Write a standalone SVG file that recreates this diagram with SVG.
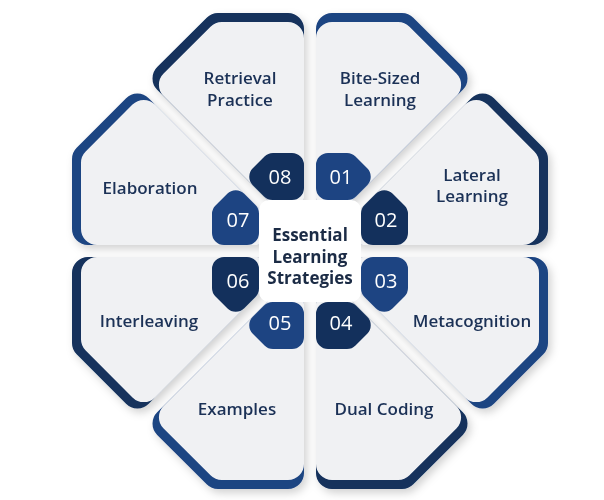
<svg xmlns="http://www.w3.org/2000/svg" width="604" height="500" viewBox="0 0 604 500">
<defs>
<filter id="sh" x="-20%" y="-20%" width="140%" height="140%"><feDropShadow dx="3" dy="4" stdDeviation="4" flood-color="#000" flood-opacity="0.18"/></filter>
<g id="card"><polygon points="22,-222 92,-222 141.5,-172.6 22,-53.1" stroke-width="32" stroke-linejoin="round"/><polygon class="lt" points="22,-213 88.2,-213 135.1,-166.2 22,-53.1" stroke-width="32" stroke-linejoin="round"/></g>
<polygon id="badge" points="18,-63 18,-86 37,-86 48.75,-74.25 37.5,-63" stroke-width="24" stroke-linejoin="round"/>
</defs>
<style>
.dk{fill:#13305c;stroke:#13305c}
.md{fill:#1d4482;stroke:#1d4482}
.lt{fill:#f0f1f3;stroke:#f0f1f3}
.lbl{font-family:"Open Sans",sans-serif;font-size:17px;font-weight:600;fill:#1b3156;text-anchor:middle}
.num{font-family:"Open Sans",sans-serif;font-size:20px;font-weight:500;fill:#fff;text-anchor:middle}
.ctr{font-family:"Open Sans",sans-serif;font-size:17px;font-weight:700;fill:#1b2b45;text-anchor:middle}
</style>
<rect width="604" height="500" fill="#fff"/>
<g id="cards" filter="url(#sh)">
<g id="c01" class="md" transform="translate(310,251)"><use href="#card"/></g>
<g id="c02" class="dk" transform="translate(310,251) matrix(0,-1,-1,0,0,0)"><use href="#card"/></g>
<g id="c03" class="md" transform="translate(310,251) matrix(0,1,-1,0,0,0)"><use href="#card"/></g>
<g id="c04" class="dk" transform="translate(310,251) matrix(1,0,0,-1,0,0)"><use href="#card"/></g>
<g id="c05" class="md" transform="translate(310,251) matrix(-1,0,0,-1,0,0)"><use href="#card"/></g>
<g id="c06" class="dk" transform="translate(310,251) matrix(0,1,1,0,0,0)"><use href="#card"/></g>
<g id="c07" class="md" transform="translate(310,251) matrix(0,-1,1,0,0,0)"><use href="#card"/></g>
<g id="c08" class="dk" transform="translate(310,251) matrix(-1,0,0,1,0,0)"><use href="#card"/></g>
</g>
<rect x="259" y="200" width="102" height="102" rx="10" fill="#fff"/>
<g id="badges">
<use href="#badge" class="md" transform="translate(310,251)"/>
<use href="#badge" class="dk" transform="translate(310,251) matrix(0,-1,-1,0,0,0)"/>
<use href="#badge" class="md" transform="translate(310,251) matrix(0,1,-1,0,0,0)"/>
<use href="#badge" class="dk" transform="translate(310,251) matrix(1,0,0,-1,0,0)"/>
<use href="#badge" class="md" transform="translate(310,251) matrix(-1,0,0,-1,0,0)"/>
<use href="#badge" class="dk" transform="translate(310,251) matrix(0,1,1,0,0,0)"/>
<use href="#badge" class="md" transform="translate(310,251) matrix(0,-1,1,0,0,0)"/>
<use href="#badge" class="dk" transform="translate(310,251) matrix(-1,0,0,1,0,0)"/>
</g>
<g id="numbers">
<text class="num" x="341" y="184">01</text>
<text class="num" x="386" y="227">02</text>
<text class="num" x="386" y="288">03</text>
<text class="num" x="341" y="330">04</text>
<text class="num" x="280" y="330">05</text>
<text class="num" x="238" y="288">06</text>
<text class="num" x="238" y="227">07</text>
<text class="num" x="280" y="184">08</text>
</g>
<g id="labels">
<text class="lbl" x="240" y="84">Retrieval</text><text class="lbl" x="240" y="106">Practice</text>
<text class="lbl" x="380" y="84">Bite-Sized</text><text class="lbl" x="380" y="106">Learning</text>
<text class="lbl" x="472" y="181">Lateral</text><text class="lbl" x="472" y="202">Learning</text>
<text class="lbl" x="472" y="327">Metacognition</text>
<text class="lbl" x="384" y="415">Dual Coding</text>
<text class="lbl" x="237" y="415">Examples</text>
<text class="lbl" x="149" y="327">Interleaving</text>
<text class="lbl" x="150" y="194">Elaboration</text>
</g>
<g id="center">
<text class="ctr" x="310" y="241">Essential</text>
<text class="ctr" x="310" y="263">Learning</text>
<text class="ctr" x="310" y="284">Strategies</text>
</g>
</svg>
